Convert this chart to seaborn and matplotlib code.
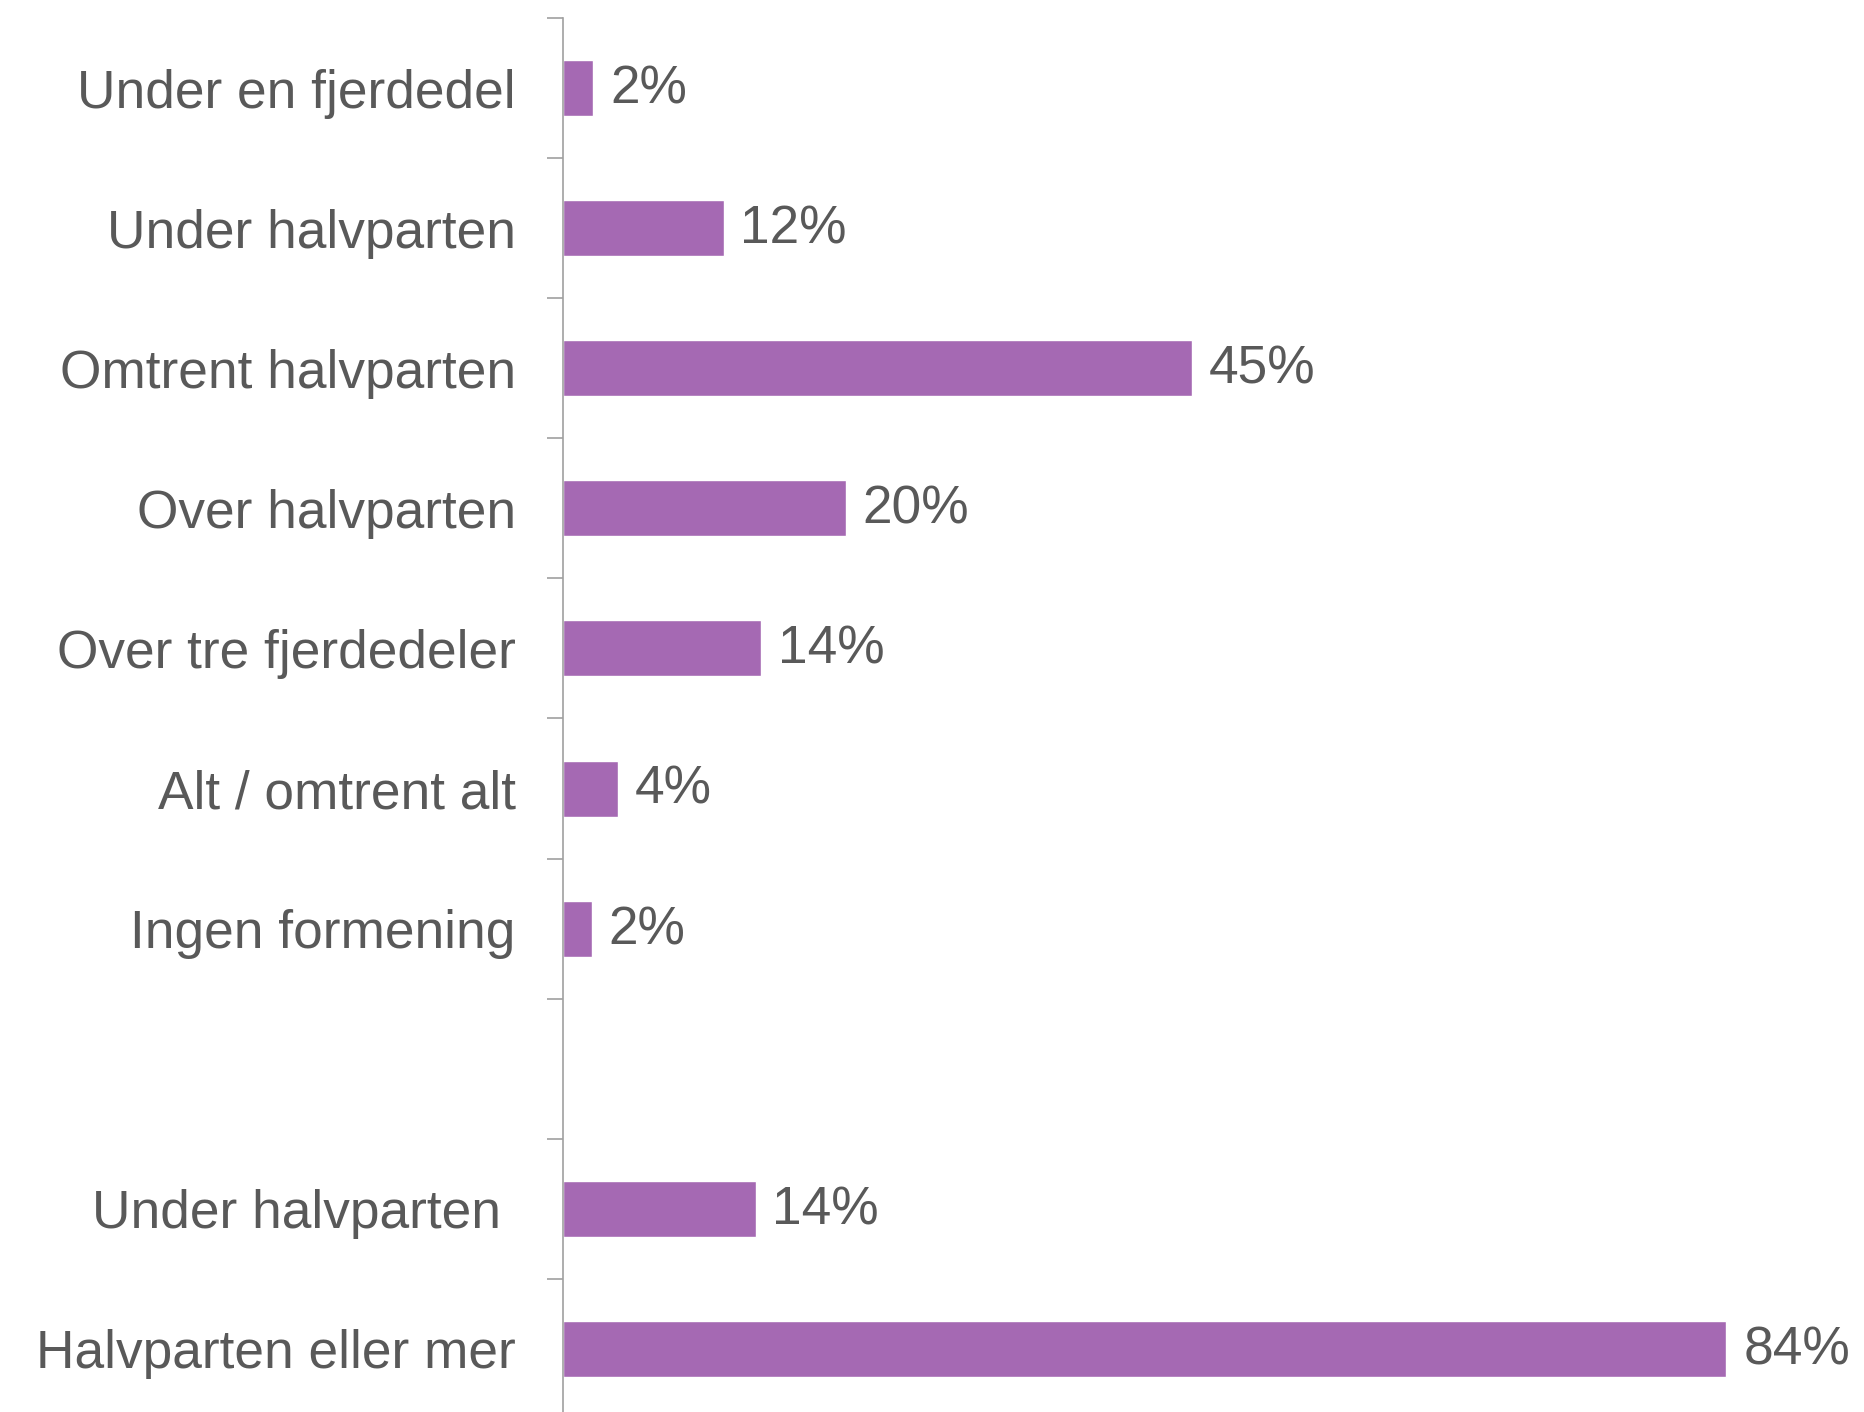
import numpy as np
import pandas as pd
import matplotlib
matplotlib.use("Agg")
import matplotlib.pyplot as plt
import seaborn as sns

categories = ["Under en fjerdedel", "Under halvparten", "Omtrent halvparten",
              "Over halvparten", "Over tre fjerdedeler", "Alt / omtrent alt",
              "Ingen formening", "Under halvparten ", "Halvparten eller mer"]
values = [2.2, 11.6, 45.4, 20.4, 14.3, 4.0, 2.1, 13.9, 84.0]
labels = ["2%", "12%", "45%", "20%", "14%", "4%", "2%", "14%", "84%"]

# empty slot between the two groups
order = categories[:7] + [""] + categories[7:]

df = pd.DataFrame({"cat": categories, "val": values})

sns.set_style("white")
plt.rcParams["font.family"] = ["Liberation Sans", "DejaVu Sans"]

text_col = "#595959"
bar_col = "#A569B3"
axis_col = "#A0A0A0"
fs = 38.3

fig = plt.figure(figsize=(18.65, 14.12), dpi=100)
ax = fig.add_axes([563 / 1865, -7 / 1412, 1 - 563 / 1865, 1401 / 1412])

sns.barplot(data=df, x="val", y="cat", order=order, color=bar_col,
            orient="h", width=0.4, saturation=1, ax=ax)

# value labels
for i, p in enumerate(ax.patches):
    ax.annotate(labels[i] if i < len(labels) else "",
                (p.get_x() + p.get_width(), p.get_y() + p.get_height() / 2),
                xytext=(12, -1), textcoords="offset points",
                ha="left", va="center", fontsize=fs, color=text_col)

ax.set_xlim(0, 94)
ax.set_ylim(9.5, -0.5)
ax.set_xlabel("")
ax.set_ylabel("")
ax.set_xticks([])

ax.set_yticks(np.arange(len(order)))
ax.set_yticklabels(order)
ax.set_yticks(np.arange(-0.5, 9.0, 1.0), minor=True)
ax.tick_params(axis="y", which="major", length=0, pad=34, labelsize=fs,
               labelcolor=text_col)
ax.tick_params(axis="y", which="minor", length=11.5, width=1.2,
               color=axis_col, left=True)

for s in ["top", "right", "bottom"]:
    ax.spines[s].set_visible(False)
ax.spines["left"].set_color(axis_col)
ax.spines["left"].set_linewidth(1.2)

fig.savefig("out.png", dpi=100)
